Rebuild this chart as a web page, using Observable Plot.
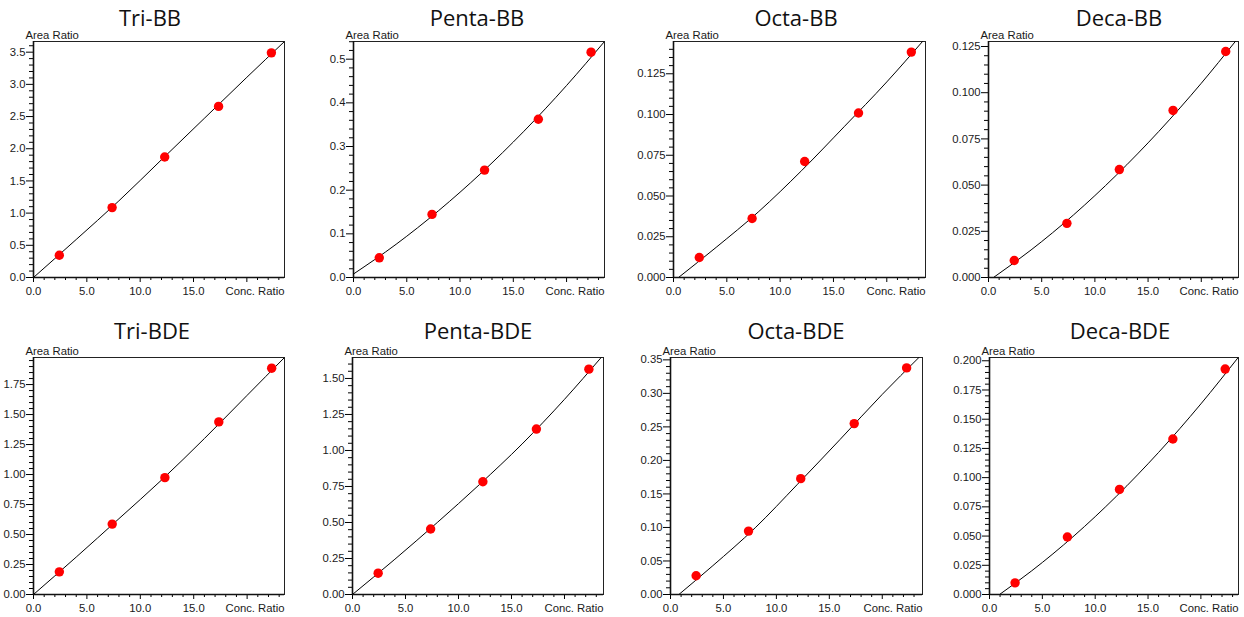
<!DOCTYPE html>
<html>
<head>
<meta charset="utf-8">
<script src="https://cdn.jsdelivr.net/npm/d3@7"></script>
<script src="https://cdn.jsdelivr.net/npm/@observablehq/plot@0.6"></script>
<style>
  html, body { margin: 0; padding: 0; background: #fff; }
  #root { position: relative; width: 1244px; height: 617px; overflow: hidden; background: #fff; }
  .panel { position: absolute; }
  .title { position: absolute; font-family: "Open Sans", "Noto Sans", sans-serif; font-weight: 400; font-size: 22px; line-height: 22px; color: #111; text-align: center; white-space: nowrap; }
</style>
</head>
<body>
<div id="root"></div>
<script>
// ---------------- DATA ----------------
const titles = ["Tri-BB", "Penta-BB", "Octa-BB", "Deca-BB", "Tri-BDE", "Penta-BDE", "Octa-BDE", "Deca-BDE"];
const concRatio = [2.42, 7.37, 12.3, 17.35, 22.3];

const areaTriBB    = [0.346, 1.086, 1.872, 2.658, 3.49];
const areaPentaBB  = [0.0451, 0.1445, 0.246, 0.3624, 0.516];
const areaOctaBB   = [0.0123, 0.0362, 0.0712, 0.1009, 0.1383];
const areaDecaBB   = [0.0092, 0.0293, 0.0584, 0.0904, 0.1223];
const areaTriBDE   = [0.189, 0.587, 0.974, 1.4385, 1.8865];
const areaPentaBDE = [0.148, 0.455, 0.783, 1.1486, 1.5646];
const areaOctaBDE  = [0.0279, 0.0946, 0.1728, 0.2549, 0.338];
const areaDecaBDE  = [0.00996, 0.0492, 0.0899, 0.1331, 0.1929];
const areaRatios = [areaTriBB, areaPentaBB, areaOctaBB, areaDecaBB, areaTriBDE, areaPentaBDE, areaOctaBDE, areaDecaBDE];

// calibration (fit) curve
const fitX = [
  [0, 4, 8, 12, 16, 20, 23.53],
  [0, 4, 8, 12, 16, 20, 23.56],
  [0.47, 4, 8, 12, 16, 20, 23.35],
  [0.47, 4, 8, 12, 16, 20, 23.2],
  [0, 4, 8, 12, 16, 20, 23.5],
  [0, 4, 8, 12, 16, 20, 23.46],
  [0.79, 4, 8, 12, 16, 20, 23.46],
  [0.95, 4, 8, 12, 16, 20, 23.53]
];
const fitY = [
  [0, 0.59, 1.19, 1.83, 2.47, 3.11, 3.666],
  [0.008, 0.0761, 0.1533, 0.2395, 0.335, 0.4397, 0.5405],
  [0, 0.0185, 0.0405, 0.0655, 0.0925, 0.120, 0.1448],
  [0, 0.0149, 0.0339, 0.0553, 0.0790, 0.1051, 0.1277],
  [0, 0.312, 0.632, 0.955, 1.30, 1.66, 1.9755],
  [0, 0.245, 0.50, 0.765, 1.045, 1.355, 1.6455],
  [0, 0.043, 0.0995, 0.1645, 0.2310, 0.2985, 0.3535],
  [0, 0.0203, 0.0502, 0.0840, 0.1216, 0.1631, 0.2028]
];

// axis extents and tick labelling
const xMax = [23.53, 23.56, 23.63, 23.5, 23.5, 23.68, 23.8, 23.56];
const yMax = [3.666, 0.5405, 0.1448, 0.1277, 1.9755, 1.6455, 0.3535, 0.2028];
const yTickStep  = [0.5, 0.1, 0.025, 0.025, 0.25, 0.25, 0.05, 0.025];
const yMinorStep = [0.1, 0.02, 0.005, 0.005, 0.05, 0.05, 0.01, 0.005];
const yDigits    = [1, 1, 3, 3, 2, 2, 2, 3];
const xTickLabels = [0, 5, 10, 15];
const xTickStep = 5, xMinorStep = 1;
const yAxisTitle = "Area Ratio";
const xAxisTitle = "Conc. Ratio";

// ---------------- LAYOUT ----------------
const frames = [
  {l: 33, r: 284, t: 41, b: 277}, {l: 353, r: 604, t: 41, b: 277},
  {l: 673, r: 925, t: 41, b: 277}, {l: 988, r: 1238, t: 41, b: 277},
  {l: 33, r: 284, t: 357, b: 594}, {l: 352, r: 603, t: 357, b: 594},
  {l: 670, r: 922, t: 357, b: 594}, {l: 989, r: 1238, t: 357, b: 594}
];
const titleCenters = [150, 477, 796, 1119, 152, 478, 796, 1120];
const titleBaselines = [25, 25, 25, 25, 338, 338, 338, 338];

const root = document.getElementById("root");

function steps(max, step) {
  const n = Math.floor(max / step + 1e-9);
  return d3.range(0, n + 1).map(i => +(i * step).toFixed(6));
}

titles.forEach((name, i) => {
  const f = frames[i];
  const mL = 50, mR = 6, mT = 22, mB = 24;
  const W = f.r - f.l + mL + mR;
  const H = f.b - f.t + mT + mB;

  const pts = concRatio.map((c, k) => ({x: c, y: areaRatios[i][k]}));
  const fit = fitX[i].map((x, k) => ({x, y: fitY[i][k]}));

  const yMaj = steps(yMax[i], yTickStep[i]);
  const yMin = steps(yMax[i], yMinorStep[i]).filter(v => !yMaj.some(m => Math.abs(m - v) < 1e-9));
  const xMaj = steps(xMax[i], xTickStep);
  const xMin = steps(xMax[i], xMinorStep).filter(v => v % xTickStep !== 0);
  const fmtY = d3.format(`.${yDigits[i]}f`);
  const fmtX = d3.format(".1f");

  const chart = Plot.plot({
    width: W, height: H,
    marginLeft: mL, marginRight: mR, marginTop: mT, marginBottom: mB,
    x: {domain: [0, xMax[i]]},
    y: {domain: [0, yMax[i]]},
    style: {fontFamily: "'Liberation Sans', Arial, sans-serif", fontSize: "11.3px", color: "#000", background: "transparent", overflow: "visible"},
    marks: [
      Plot.axisY(yMin, {tickSize: 4, tickFormat: () => "", label: null}),
      Plot.axisY(yMaj, {tickSize: 7, tickPadding: 1, tickFormat: fmtY, label: null, fill: "#1a1a1a"}),
      Plot.axisX(xMin, {tickSize: 3, tickFormat: () => "", label: null}),
      Plot.axisX(xMaj, {tickSize: 5, tickPadding: 4, tickFormat: d => xTickLabels.includes(d) ? fmtX(d) : "", label: null, fill: "#1a1a1a"}),
      Plot.frame({stroke: "#222", strokeWidth: 1}),
      Plot.ruleX([0], {stroke: "#111", strokeWidth: 1.6}),
      Plot.ruleY([0], {stroke: "#111", strokeWidth: 1.6}),
      Plot.line(fit, {x: "x", y: "y", curve: "monotone-x", stroke: "#000", strokeWidth: 1, clip: true}),
      Plot.dot(pts, {x: "x", y: "y", r: 4.7, fill: "#ff0000", stroke: "none"}),
      Plot.text([yAxisTitle], {frameAnchor: "top-left", textAnchor: "start", lineAnchor: "bottom", dx: -8, dy: -2.5, fill: "#1a1a1a"}),
      Plot.text([xAxisTitle], {frameAnchor: "bottom-right", textAnchor: "end", lineAnchor: "top", dy: 9, fill: "#1a1a1a"})
    ]
  });

  const div = document.createElement("div");
  div.className = "panel";
  div.style.left = (f.l - mL) + "px";
  div.style.top = (f.t - mT) + "px";
  div.appendChild(chart);
  root.appendChild(div);

  const t = document.createElement("div");
  t.className = "title";
  t.textContent = name;
  t.style.width = "240px";
  t.style.left = (titleCenters[i] - 120) + "px";
  t.style.top = (titleBaselines[i] - 19.5) + "px";
  root.appendChild(t);
});
</script>
</body>
</html>
